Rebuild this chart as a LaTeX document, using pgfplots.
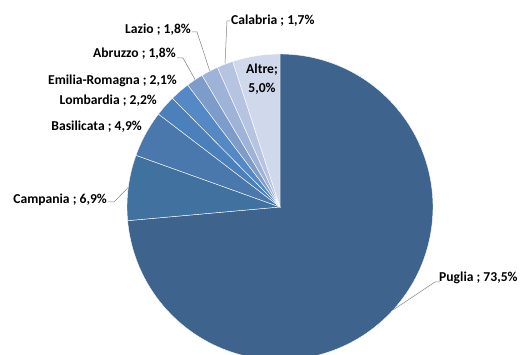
\documentclass[border=0pt]{standalone}
\usepackage{pgfplots}
\pgfplotsset{compat=1.18}
\usepackage{fontspec}
\setmainfont{Carlito}
\definecolor{cPug}{HTML}{3E648E}
\definecolor{cCam}{HTML}{41719F}
\definecolor{cBas}{HTML}{4A78AD}
\definecolor{cLom}{HTML}{4C80BB}
\definecolor{cEmi}{HTML}{5589C6}
\definecolor{cAbr}{HTML}{7D9CC9}
\definecolor{cLaz}{HTML}{9FB3D8}
\definecolor{cCal}{HTML}{B6C4E1}
\definecolor{cAlt}{HTML}{D0D8EB}
\tikzset{lab/.style={font=\fontsize{13.6}{15}\selectfont\bfseries, inner sep=0pt}}
% #1 colour, #2 cumulative share before slice, #3 share of slice
\newcommand\slice[3]{\addplot[fill=#1, draw=white, line width=0.4pt,
  domain={90-360/99.9*(#2+#3)}:{90-360/99.9*(#2)}, samples=150]
  ({280+153*cos(x)},{148+153*sin(x)}) -- (axis cs:280,148) -- cycle;}
\begin{document}
\begin{tikzpicture}
\begin{axis}[scale only axis, width=520pt, height=355pt,
  xmin=0, xmax=520, ymin=0, ymax=355, hide axis]
\slice{cPug}{0}{73.5}
\slice{cCam}{73.5}{6.9}
\slice{cBas}{80.4}{4.9}
\slice{cLom}{85.3}{2.2}
\slice{cEmi}{87.5}{2.1}
\slice{cAbr}{89.6}{1.8}
\slice{cLaz}{91.4}{1.8}
\slice{cCal}{93.2}{1.7}
\slice{cAlt}{94.9}{5.0}
% leader lines
\draw[gray, line width=0.5pt] (axis cs:192,323) -- (axis cs:197,323) -- (axis cs:209.6,284.5);
\draw[gray, line width=0.5pt] (axis cs:230,334) -- (axis cs:227,334) -- (axis cs:225,291.5);
\draw[gray, line width=0.5pt] (axis cs:177,297) -- (axis cs:183,297) -- (axis cs:195,275.5);
\draw[gray, line width=0.5pt] (axis cs:108,153) -- (axis cs:114,153) -- (axis cs:128.3,167.7);
\draw[gray, line width=0.5pt] (axis cs:440,73) -- (axis cs:435,73) -- (axis cs:393,45);
% labels
\node[lab, anchor=east] at (axis cs:191,325) {Lazio ; 1,8\%};
\node[lab, anchor=west] at (axis cs:231,334) {Calabria ; 1,7\%};
\node[lab, anchor=east] at (axis cs:176,301) {Abruzzo ; 1,8\%};
\node[lab, anchor=east] at (axis cs:177,274) {Emilia-Romagna ; 2,1\%};
\node[lab, anchor=east] at (axis cs:157,254) {Lombardia ; 2,2\%};
\node[lab, anchor=east] at (axis cs:142,228) {Basilicata ; 4,9\%};
\node[lab, anchor=east] at (axis cs:107,155) {Campania ; 6,9\%};
\node[lab, anchor=west] at (axis cs:439,77) {Puglia ; 73,5\%};
\node[lab, align=center] at (axis cs:262,276) {Altre;\\[3.5pt]5,0\%};
\end{axis}
\pgfresetboundingbox
\useasboundingbox (current axis.south west) rectangle (current axis.north east);
\end{tikzpicture}
\end{document}
